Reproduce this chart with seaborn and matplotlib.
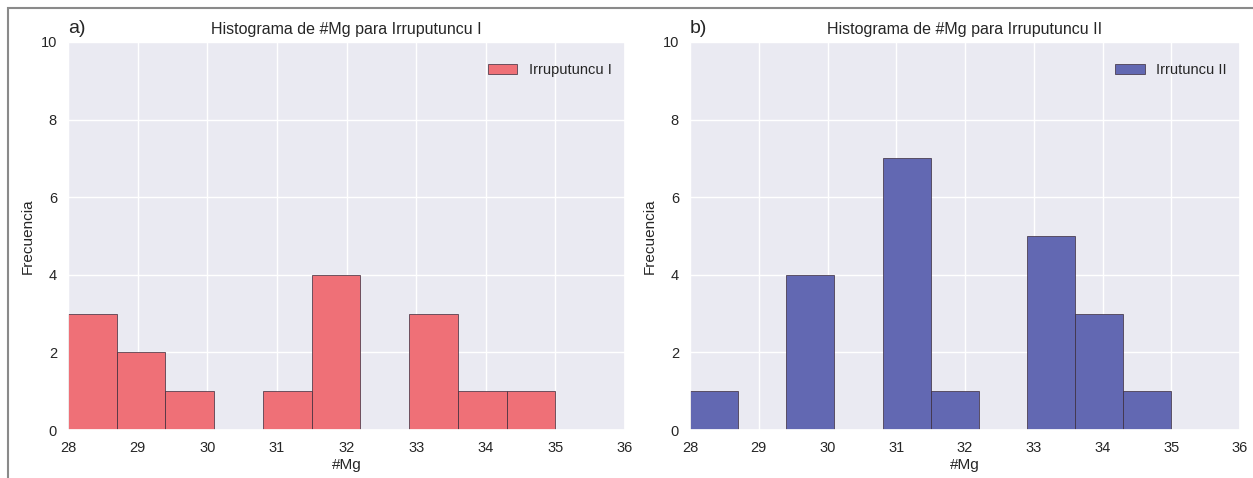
import numpy as np
import pandas as pd
import seaborn as sns
import matplotlib
matplotlib.use("Agg")
import matplotlib.pyplot as plt
from matplotlib.patches import Rectangle

# Data
bin_edges = [28.0, 28.7, 29.4, 30.1, 30.8, 31.5, 32.2, 32.9, 33.6, 34.3, 35.0]
counts_I = [3, 2, 1, 0, 1, 4, 0, 3, 1, 1]
counts_II = [1, 0, 4, 0, 7, 1, 0, 5, 3, 1]
label_I = "Irruputuncu I"
label_II = "Irrutuncu II"
title_I = "Histograma de #Mg para Irruputuncu I"
title_II = "Histograma de #Mg para Irruputuncu II"
xticks = [28, 29, 30, 31, 32, 33, 34, 35, 36]
yticks = [0, 2, 4, 6, 8, 10]

sns.set_theme(style="darkgrid")
plt.rcParams['font.family'] = ['Liberation Sans', 'DejaVu Sans']

fig = plt.figure(figsize=(12.53, 4.78), dpi=100)
ax1 = fig.add_axes([68/1253, 1-430/478, (625-68)/1253, (430-42)/478])
ax2 = fig.add_axes([690/1253, 1-430/478, (1240-690)/1253, (430-42)/478])

centers = [(bin_edges[i] + bin_edges[i+1]) / 2 for i in range(len(bin_edges)-1)]

def draw(ax, counts, color, label, title, tag):
    df = pd.DataFrame({"Mg": centers, "w": counts})
    sns.histplot(data=df, x="Mg", weights="w", bins=bin_edges, ax=ax,
                 color=color, alpha=1.0, edgecolor="#3a2a3a", linewidth=0.5,
                 label=label)
    ax.set_xlim(28, 36)
    ax.set_ylim(0, 10)
    ax.set_xticks(xticks)
    ax.set_yticks(yticks)
    ax.tick_params(labelsize=10.5, pad=2)
    ax.set_xlabel("#Mg", fontsize=11, labelpad=2)
    ax.set_ylabel("Frecuencia", fontsize=11)
    ax.set_title(title, fontsize=11.5, pad=6)
    ax.text(0.0, 1.012, tag, transform=ax.transAxes, fontsize=14,
            ha="left", va="bottom")
    ax.legend(loc="upper right", frameon=False, fontsize=10.5,
              bbox_to_anchor=(1.0, 0.98))

draw(ax1, counts_I, "#ef7077", label_I, title_I, "a)")
draw(ax2, counts_II, "#6268b2", label_II, title_II, "b)")

# thin gray frame around figure
fig.patches.append(Rectangle((8/1253, -0.05), 1.1, 1 - 8/478 + 0.05,
                             transform=fig.transFigure, fill=False,
                             edgecolor="#8a8a8a", linewidth=1.5))

fig.savefig("out.png", dpi=100, facecolor="white")
